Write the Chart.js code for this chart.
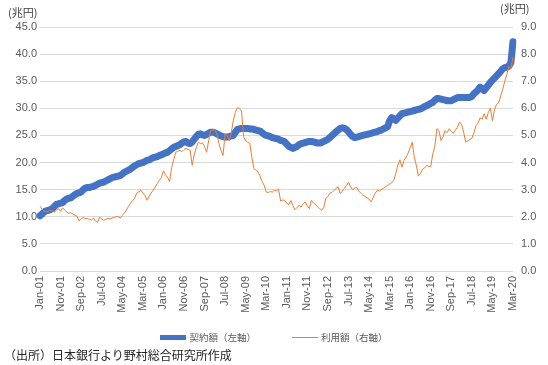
<!DOCTYPE html>
<html>
<head>
<meta charset="utf-8">
<script src="https://cdn.jsdelivr.net/npm/chart.js@4.4.1/dist/chart.umd.min.js"></script>
<style>
  body { margin: 0; background: #fff; }
  #wrap { position: relative; width: 548px; height: 365px; font-family: "Noto Sans CJK JP", sans-serif; color: #595959; }
  #chart { position: absolute; left: 0; top: 0; }
  .unit { position: absolute; font-size: 11px; color: #404040; }
  #note { position: absolute; left: 4px; top: 347px; font-size: 12px; line-height: 16px; color: #262626; }
  #legend { position: absolute; left: 0; top: 330px; width: 548px; display: flex; justify-content: center; align-items: center; font-size: 9.5px; line-height: 14px; color: #595959; }
  #legend .item { display: flex; align-items: center; margin: 0 18px; }
  #legend .swatch { width: 26px; margin-right: 3px; }
</style>
</head>
<body>
<div id="wrap">
  <canvas id="chart" width="548" height="365"></canvas>
  <div class="unit" style="left:8px; top:4px;">(兆円)</div>
  <div class="unit" style="left:500px; top:0px;">(兆円)</div>
  <div id="legend"></div>
  <div id="note">（出所）日本銀行より野村総合研究所作成</div>
</div>
<script>
// months Jan-01 .. Mar-20
const monthNames = ['Jan', 'Feb', 'Mar', 'Apr', 'May', 'Jun', 'Jul', 'Aug', 'Sep', 'Oct', 'Nov', 'Dec'];
const years = ['01', '02', '03', '04', '05', '06', '07', '08', '09', '10',
               '11', '12', '13', '14', '15', '16', '17', '18', '19', '20'];
const lastYearMonths = 3;

// 契約額 (left axis, 兆円)
const contract = [
  10.2, 10.5, 10.9, 11.1, 11.2, 11.3, 11.5, 11.9, 12.3, 12.4, 12.5, 12.6,
  13.0, 13.3, 13.4, 13.5, 13.8, 14.1, 14.3, 14.4, 14.6, 15.0, 15.3, 15.4,
  15.4, 15.5, 15.6, 15.8, 16.0, 16.2, 16.3, 16.4, 16.6, 16.8, 17.0, 17.2,
  17.3, 17.4, 17.5, 17.6, 17.9, 18.2, 18.4, 18.6, 18.8, 19.1, 19.4, 19.6,
  19.8, 19.9, 20.0, 20.2, 20.4, 20.5, 20.7, 20.9, 21.0, 21.1, 21.3, 21.4,
  21.6, 21.8, 21.9, 22.2, 22.5, 22.8, 23.0, 23.1, 23.3, 23.6, 23.8, 23.9,
  23.6, 23.5, 23.8, 24.3, 24.8, 25.2, 25.3, 25.1, 25.0, 25.2, 25.4, 25.6,
  25.6, 25.5, 25.3, 25.1, 24.9, 24.8, 24.7, 24.7, 24.8, 24.9, 25.0, 25.6,
  26.1, 26.2, 26.3, 26.3, 26.3, 26.3, 26.2, 26.2, 26.1, 26.0, 25.9, 25.8,
  25.5, 25.2, 25.0, 24.9, 24.8, 24.6, 24.5, 24.4, 24.3, 24.1, 24.0, 23.8,
  23.4, 23.0, 22.8, 22.6, 22.8, 23.0, 23.3, 23.5, 23.6, 23.7, 23.8, 23.9,
  23.9, 23.8, 23.7, 23.6, 23.6, 23.7, 23.9, 24.1, 24.3, 24.6, 25.0, 25.3,
  25.7, 26.0, 26.3, 26.4, 26.3, 26.1, 25.7, 25.2, 24.8, 24.6, 24.7, 24.8,
  24.9, 25.0, 25.1, 25.2, 25.3, 25.4, 25.5, 25.6, 25.7, 25.9, 26.0, 26.2,
  26.4, 26.6, 27.7, 28.3, 28.1, 27.8, 28.2, 28.6, 29.0, 29.1, 29.2, 29.3,
  29.4, 29.5, 29.6, 29.7, 29.8, 29.9, 30.1, 30.3, 30.5, 30.7, 30.9, 31.1,
  31.5, 31.8, 31.8, 31.7, 31.6, 31.5, 31.4, 31.4, 31.4, 31.6, 31.8, 32.0,
  32.0, 32.0, 32.0, 32.0, 32.0, 32.0, 32.2, 32.7, 33.0, 33.4, 33.9, 33.6,
  33.3, 33.8, 34.3, 34.8, 35.2, 35.6, 36.0, 36.4, 36.8, 37.3, 37.5, 37.6,
  37.8, 38.5, 42.3
];

// 利用額 (right axis, 兆円)
const usage = [
  2.39, 2.28, 2.22, 2.18, 2.21, 2.24, 2.22, 2.17, 2.24, 2.30, 2.20, 2.33,
  2.25, 2.18, 2.13, 2.15, 2.10, 2.06, 2.02, 1.85, 1.92, 1.97, 1.94, 1.93,
  1.91, 1.88, 1.95, 1.84, 1.80, 1.98, 1.92, 1.87, 1.90, 1.94, 1.92, 1.95,
  1.97, 2.00, 2.02, 1.95, 2.05, 2.13, 2.24, 2.38, 2.50, 2.60, 2.68, 2.87,
  2.92, 2.98, 2.88, 2.79, 2.61, 2.75, 2.87, 2.98, 3.10, 3.23, 3.34, 3.45,
  3.70, 3.55, 3.45, 3.30, 3.82, 4.10, 4.38, 4.42, 4.45, 4.40, 4.48, 4.52,
  4.48, 4.45, 3.90, 4.30, 4.55, 4.75, 4.70, 4.72, 4.60, 4.38, 4.80, 5.18,
  5.20, 5.22, 5.05, 4.70, 4.45, 4.26, 5.05, 5.00, 4.80, 5.10, 5.55, 5.85,
  6.02, 6.00, 5.90, 4.95, 4.81, 4.75, 4.70, 4.20, 3.78, 3.72, 3.65, 3.50,
  3.30, 3.16, 2.91, 2.90, 2.93, 2.91, 2.98, 2.95, 3.03, 2.58, 2.62, 2.61,
  2.50, 2.45, 2.60, 2.40, 2.26, 2.35, 2.42, 2.36, 2.48, 2.55, 2.40, 2.30,
  2.61, 2.50, 2.45, 2.36, 2.30, 2.24, 2.35, 2.68, 2.75, 2.87, 2.90, 2.98,
  3.05, 3.10, 2.85, 2.95, 3.05, 3.15, 3.28, 3.10, 3.00, 3.05, 3.08, 2.95,
  2.87, 2.80, 2.75, 2.70, 2.65, 2.55, 2.70, 2.87, 2.98, 2.95, 3.00, 3.05,
  3.10, 3.16, 3.20, 3.25, 3.34, 3.60, 3.90, 4.10, 3.83, 4.08, 4.20, 4.35,
  4.55, 4.75, 4.20, 3.90, 3.50, 3.60, 3.75, 3.80, 3.89, 3.85, 3.85, 4.33,
  4.60, 5.25, 5.18, 4.81, 4.95, 5.18, 5.10, 5.25, 5.15, 5.08, 5.20, 5.30,
  5.50, 5.40, 5.12, 4.75, 4.80, 4.85, 4.89, 5.10, 5.36, 5.45, 5.65, 5.60,
  5.80, 5.60, 5.85, 6.00, 5.55, 5.95, 6.15, 6.20, 6.45, 6.70, 7.00, 7.25,
  7.55, 7.45, 7.90
];

const labels = [];
years.forEach((y, yi) => {
  const n = yi === years.length - 1 ? lastYearMonths : 12;
  for (let m = 0; m < n; m++) labels.push(monthNames[m] + '-' + y);
});

const tickFont = { family: '"Liberation Sans", Arial, sans-serif', size: 11 };
const grey = '#595959';

const chart = new Chart(document.getElementById('chart'), {
    type: 'line',
    data: {
        labels: labels,
        datasets: [
            {
                label: '利用額（右軸）',
                data: usage,
                yAxisID: 'y1',
                borderColor: '#ED7D31',
                backgroundColor: '#ED7D31',
                borderWidth: 1,
                pointRadius: 0,
                tension: 0
            },
            {
                label: '契約額（左軸）',
                data: contract,
                yAxisID: 'y',
                borderColor: '#4472C4',
                backgroundColor: '#4472C4',
                borderWidth: 7,
                borderJoinStyle: 'round',
                borderCapStyle: 'round',
                pointRadius: 0,
                tension: 0
            }
        ]
    },
    options: {
        responsive: false,
        animation: false,
        layout: { padding: { top: 27, bottom: 49, left: 0, right: 0 } },
        plugins: {
            tooltip: { enabled: false },
            legend: { display: false }
        },
        scales: {
            x: {
                grid: { display: false, drawTicks: false },
                border: { display: false },
                ticks: {
                    autoSkip: false,
                    minRotation: 90,
                    maxRotation: 90,
                    padding: 5,
                    color: grey,
                    font: tickFont,
                    callback: function (v, i) { return i % 10 === 0 ? this.getLabelForValue(v) : null; }
                },
                afterFit: (s) => { s.height = 45; }
            },
            y: {
                position: 'left',
                min: 0,
                max: 45,
                ticks: { stepSize: 5, color: grey, font: tickFont, callback: v => v.toFixed(1) },
                grid: { color: '#D9D9D9', drawTicks: false },
                border: { display: false },
                afterFit: (s) => { s.width = 40; }
            },
            y1: {
                position: 'right',
                min: 0,
                max: 9,
                ticks: { stepSize: 1, color: grey, font: tickFont, padding: 8, callback: v => v.toFixed(1) },
                grid: { drawOnChartArea: false, drawTicks: false },
                border: { display: false },
                afterFit: (s) => { s.width = 35; }
            }
        }
    }
});

// legend in the order of the reference (契約額 first), colours taken from the datasets
const legendEl = document.getElementById('legend');
chart.data.datasets.slice().reverse().forEach(ds => {
    const item = document.createElement('div');
    item.className = 'item';
    const sw = document.createElement('div');
    sw.className = 'swatch';
    sw.style.height = (ds.borderWidth > 1 ? 5 : 1) + 'px';
    sw.style.background = ds.borderColor;
    const txt = document.createElement('span');
    txt.textContent = ds.label;
    item.appendChild(sw);
    item.appendChild(txt);
    legendEl.appendChild(item);
});
</script>
</body>
</html>
